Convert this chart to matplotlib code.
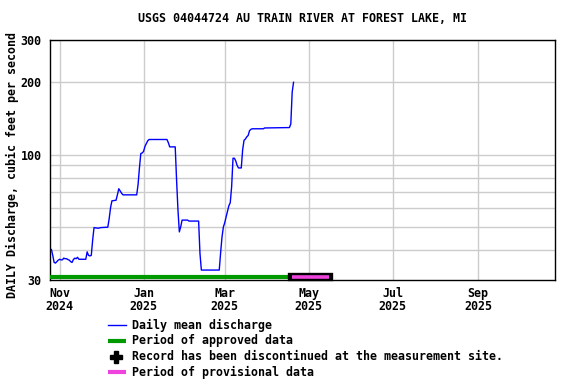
import matplotlib
matplotlib.use("Agg")
import matplotlib.pyplot as plt
import matplotlib.patheffects as pe
import matplotlib.transforms as mtransforms
from matplotlib.lines import Line2D
from matplotlib.ticker import FixedLocator, FixedFormatter, NullLocator
import numpy as np

title = "USGS 04044724 AU TRAIN RIVER AT FOREST LAKE, MI"
ylabel = "DAILY Discharge, cubic feet per second"

dates = [
    "2024-10-26", "2024-10-27", "2024-10-28", "2024-10-29", "2024-10-30", "2024-10-31",
    "2024-11-01", "2024-11-02", "2024-11-03", "2024-11-04", "2024-11-05", "2024-11-06",
    "2024-11-07", "2024-11-08", "2024-11-09", "2024-11-10", "2024-11-11", "2024-11-12",
    "2024-11-13", "2024-11-14", "2024-11-15", "2024-11-20", "2024-11-21", "2024-11-22",
    "2024-11-23", "2024-11-24", "2024-11-25", "2024-11-26", "2024-11-29", "2024-12-01",
    "2024-12-06", "2024-12-07", "2024-12-08", "2024-12-09", "2024-12-12", "2024-12-13",
    "2024-12-14", "2024-12-15", "2024-12-16", "2024-12-17", "2024-12-27", "2024-12-28",
    "2024-12-29", "2024-12-30", "2024-12-31", "2025-01-01", "2025-01-02", "2025-01-03",
    "2025-01-04", "2025-01-05", "2025-01-18", "2025-01-19", "2025-01-20", "2025-01-24",
    "2025-01-25", "2025-01-26", "2025-01-27", "2025-01-28", "2025-01-29", "2025-02-02",
    "2025-02-03", "2025-02-10", "2025-02-11", "2025-02-12", "2025-02-25", "2025-02-26",
    "2025-02-27", "2025-02-28", "2025-03-01", "2025-03-02", "2025-03-03", "2025-03-04",
    "2025-03-05", "2025-03-06", "2025-03-07", "2025-03-08", "2025-03-09", "2025-03-10",
    "2025-03-11", "2025-03-13", "2025-03-14", "2025-03-15", "2025-03-16", "2025-03-17",
    "2025-03-18", "2025-03-19", "2025-03-20", "2025-03-21", "2025-03-29", "2025-03-30",
    "2025-04-17", "2025-04-18", "2025-04-19", "2025-04-20",
]
flow = [
    40.2, 38.0, 35.5, 35.3, 35.8, 36.3,
    36.6, 36.4, 36.4, 37.0, 36.8, 36.8,
    36.5, 36.3, 35.8, 35.5, 36.5, 37.0,
    36.8, 37.3, 36.6, 36.6, 39.3, 38.0,
    37.8, 38.0, 44.0, 49.6, 49.3, 49.6,
    49.8, 54.0, 60.0, 64.1, 64.5, 68.0,
    72.0, 70.5, 69.0, 67.9, 67.9, 75.0,
    88.0, 101.0, 101.5, 103.0, 108.0, 111.0,
    114.0, 115.5, 115.5, 112.0, 107.6, 107.6,
    78.0, 58.6, 47.6, 50.0, 53.3, 53.3,
    52.8, 52.8, 38.6, 33.0, 33.0, 39.0,
    45.3, 49.9, 52.0, 55.0, 58.0, 61.2,
    63.0, 73.4, 96.5, 96.5, 94.0, 90.0,
    87.9, 87.9, 104.6, 114.6, 116.0, 118.5,
    120.0, 125.7, 127.3, 128.0, 128.0, 129.0,
    129.5, 134.0, 182.0, 200.0,
]

approved_period = ["2024-10-25", "2025-04-19"]
provisional_period = ["2025-04-19", "2025-05-16"]
x_limits = ["2024-10-25", "2025-10-27"]

x_ticks = ["2024-11-01", "2025-01-01", "2025-03-01", "2025-05-01", "2025-07-01", "2025-09-01"]
x_tick_labels = ["Nov\n2024", "Jan\n2025", "Mar\n2025", "May\n2025", "Jul\n2025", "Sep\n2025"]
y_ticks = [30, 100, 200, 300]
y_tick_labels = ["30", "100", "200", "300"]
y_grid = [40, 50, 60, 70, 80, 90, 100, 200, 300]

legend_labels = [
    "Daily mean discharge",
    "Period of approved data",
    "Record has been discontinued at the measurement site.",
    "Period of provisional data",
]

FONT = "DejaVu Sans Mono"
FS = 8.4
plt.rcParams["font.family"] = FONT
plt.rcParams["font.weight"] = "bold"

W, H = 576, 384
fig = plt.figure(figsize=(W / 100, H / 100), dpi=100)
ax = fig.add_axes([50 / W, 1 - 280 / H, 505 / W, 240 / H])

d = np.array(dates, dtype="datetime64[D]")
ax.plot(d, flow, color="#0000ff", lw=1.0, zorder=3)

ax.set_yscale("log")
ax.set_ylim(30, 300)
ax.set_xlim(np.datetime64(x_limits[0]), np.datetime64(x_limits[1]))

ax.yaxis.set_major_locator(FixedLocator(y_ticks))
ax.yaxis.set_major_formatter(FixedFormatter(y_tick_labels))
ax.yaxis.set_minor_locator(NullLocator())
xt = np.array(x_ticks, dtype="datetime64[D]")
ax.set_xticks(xt)
ax.set_xticklabels(x_tick_labels)
ax.xaxis.set_minor_locator(NullLocator())

for v in y_grid:
    ax.axhline(v, color="#cccccc", lw=1.0, zorder=1)
for t in xt:
    ax.axvline(t, color="#cccccc", lw=1.0, zorder=1)

ax.tick_params(axis="both", length=0, labelsize=FS)
ax.tick_params(axis="y", pad=6)
ax.tick_params(axis="x", pad=5)
for lab in ax.get_xticklabels() + ax.get_yticklabels():
    lab.set_fontweight("bold")
    lab.set_linespacing(1.05)

for s in ax.spines.values():
    s.set_color("black")
    s.set_linewidth(1.0)

trans = mtransforms.blended_transform_factory(ax.transData, ax.transAxes)
ap = np.array(approved_period, dtype="datetime64[D]")
ax.plot(ap, [0.0105, 0.0105], transform=trans, color="#009900", lw=3.0,
        solid_capstyle="butt", clip_on=False, zorder=4)
pp = np.array(provisional_period, dtype="datetime64[D]")
ax.plot(pp, [0.0115, 0.0115], transform=trans, color="#ee44dd", lw=2.6,
        solid_capstyle="butt", clip_on=False, zorder=5,
        path_effects=[pe.Stroke(linewidth=6.0, foreground="black", capstyle="projecting"), pe.Normal()])

fig.text(302 / W, 1 - 19 / H, title, ha="center", va="center", fontsize=FS, fontweight="bold")
fig.text(12 / W, 1 - 165 / H, ylabel, rotation=90, ha="center", va="center", fontsize=FS, fontweight="bold")

# legend
ys = [325, 340.5, 356.5, 372]
tf = fig.transFigure
fig.add_artist(Line2D([108 / W, 126 / W], [1 - ys[0] / H] * 2, transform=tf, color="#0000ff", lw=1.0))
fig.add_artist(Line2D([108 / W, 126 / W], [1 - ys[1] / H] * 2, transform=tf, color="#009900", lw=3.0, solid_capstyle="butt"))
fig.add_artist(Line2D([116 / W], [1 - ys[2] / H], transform=tf, color="black", marker="P", markersize=9, lw=0))
fig.add_artist(Line2D([108 / W, 126 / W], [1 - ys[3] / H] * 2, transform=tf, color="#ee44dd", lw=3.0, solid_capstyle="butt"))
for y, lab in zip(ys, legend_labels):
    fig.text(132 / W, 1 - y / H, lab, ha="left", va="center", fontsize=FS, fontweight="bold")

fig.savefig("out.png", dpi=100)
